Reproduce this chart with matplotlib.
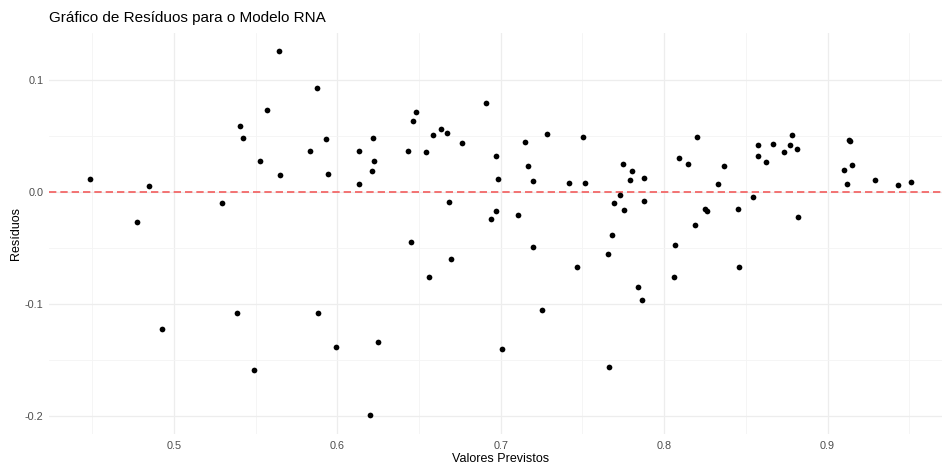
import numpy as np
import matplotlib.pyplot as plt

plt.rcParams['font.family'] = ['Liberation Sans', 'DejaVu Sans']

# valores previstos pelo modelo e respectivos resíduos
previstos = [
    0.4486, 0.4845, 0.4772, 0.4927,
    0.5643, 0.5875, 0.5567, 0.5406, 0.5422, 0.5928, 0.5833, 0.6132, 0.5527,
    0.5651, 0.5943, 0.6130, 0.5296, 0.5384, 0.5881, 0.5991, 0.5488,
    0.6908, 0.6483, 0.6463, 0.6636, 0.6588, 0.6673, 0.6220, 0.6763, 0.6430,
    0.6545, 0.6973, 0.6226, 0.6214, 0.6983, 0.6685, 0.6973, 0.6942, 0.6449,
    0.6698, 0.6561, 0.6247, 0.7006, 0.6198,
    0.7281, 0.7501, 0.7148, 0.7746, 0.7169, 0.7805, 0.7791, 0.7876, 0.7200,
    0.7420, 0.7515, 0.7728, 0.7695, 0.7876, 0.7754, 0.7108, 0.7679, 0.7195,
    0.7654, 0.7466, 0.7842, 0.7864, 0.7250, 0.7665,
    0.8201, 0.8091, 0.8146, 0.8364, 0.8327, 0.8248, 0.8264, 0.8450, 0.8191,
    0.8068, 0.8058, 0.8460, 0.8542, 0.8572, 0.8576, 0.8625, 0.8666, 0.8736,
    0.8768, 0.8782, 0.8811, 0.8817,
    0.9130, 0.9137, 0.9149, 0.9099, 0.9121, 0.9288, 0.9429, 0.9509,
]
residuos = [
    0.0116, 0.0054, -0.0271, -0.1227,
    0.1254, 0.0923, 0.0730, 0.0590, 0.0477, 0.0468, 0.0366, 0.0363, 0.0274,
    0.0149, 0.0155, 0.0069, -0.0098, -0.1087, -0.1084, -0.1391, -0.1591,
    0.0789, 0.0715, 0.0634, 0.0560, 0.0509, 0.0524, 0.0477, 0.0435, 0.0366,
    0.0354, 0.0322, 0.0271, 0.0182, 0.0113, -0.0092, -0.0176, -0.0244, -0.0453,
    -0.0602, -0.0763, -0.1346, -0.1409, -0.1999,
    0.0515, 0.0492, 0.0447, 0.0250, 0.0226, 0.0188, 0.0104, 0.0119, 0.0098,
    0.0074, 0.0080, -0.0033, -0.0098, -0.0083, -0.0161, -0.0211, -0.0384, -0.0497,
    -0.0560, -0.0673, -0.0849, -0.0971, -0.1055, -0.1570,
    0.0492, 0.0304, 0.0247, 0.0229, 0.0066, -0.0155, -0.0170, -0.0158, -0.0298,
    -0.0477, -0.0766, -0.0670, -0.0051, 0.0417, 0.0316, 0.0268, 0.0426, 0.0357,
    0.0420, 0.0509, 0.0381, -0.0223,
    0.0462, 0.0457, 0.0241, 0.0194, 0.0069, 0.0104, 0.0063, 0.0083,
]

fig = plt.figure(figsize=(9.42, 4.66), dpi=100)
ax = fig.add_axes([0.052, 0.0695, 0.9584, 0.8594])

ax.scatter(previstos, residuos, s=17, color='black', linewidths=0, zorder=3)
ax.axhline(0, color='#F25C5C', lw=1.2, dashes=(4.4, 2.4), zorder=2)

ax.margins(0.05)
ax.set_xticks([0.5, 0.6, 0.7, 0.8, 0.9])
ax.set_xticks([0.45, 0.55, 0.65, 0.75, 0.85, 0.95], minor=True)
ax.set_yticks([-0.2, -0.1, 0.0, 0.1])
ax.set_yticks([-0.15, -0.05, 0.05], minor=True)
ax.set_xticklabels(['0.5', '0.6', '0.7', '0.8', '0.9'])
ax.set_yticklabels(['-0.2', '-0.1', '0.0', '0.1'])

ax.grid(which='major', color='#EDEDED', lw=0.9)
ax.grid(which='minor', color='#F4F4F4', lw=0.6)
ax.set_axisbelow(True)
for s in ax.spines.values():
    s.set_visible(False)
ax.tick_params(which='both', length=0, labelsize=7.8, labelcolor='#4D4D4D')
ax.tick_params(axis='x', pad=5)
ax.tick_params(axis='y', pad=4)

ax.set_xlabel('Valores Previstos', fontsize=9, labelpad=2)
ax.set_ylabel('Resíduos', fontsize=9, labelpad=2)
ax.set_title('Gráfico de Resíduos para o Modelo RNA', loc='left', fontsize=11, pad=8)

fig.savefig('out.png', dpi=100)
